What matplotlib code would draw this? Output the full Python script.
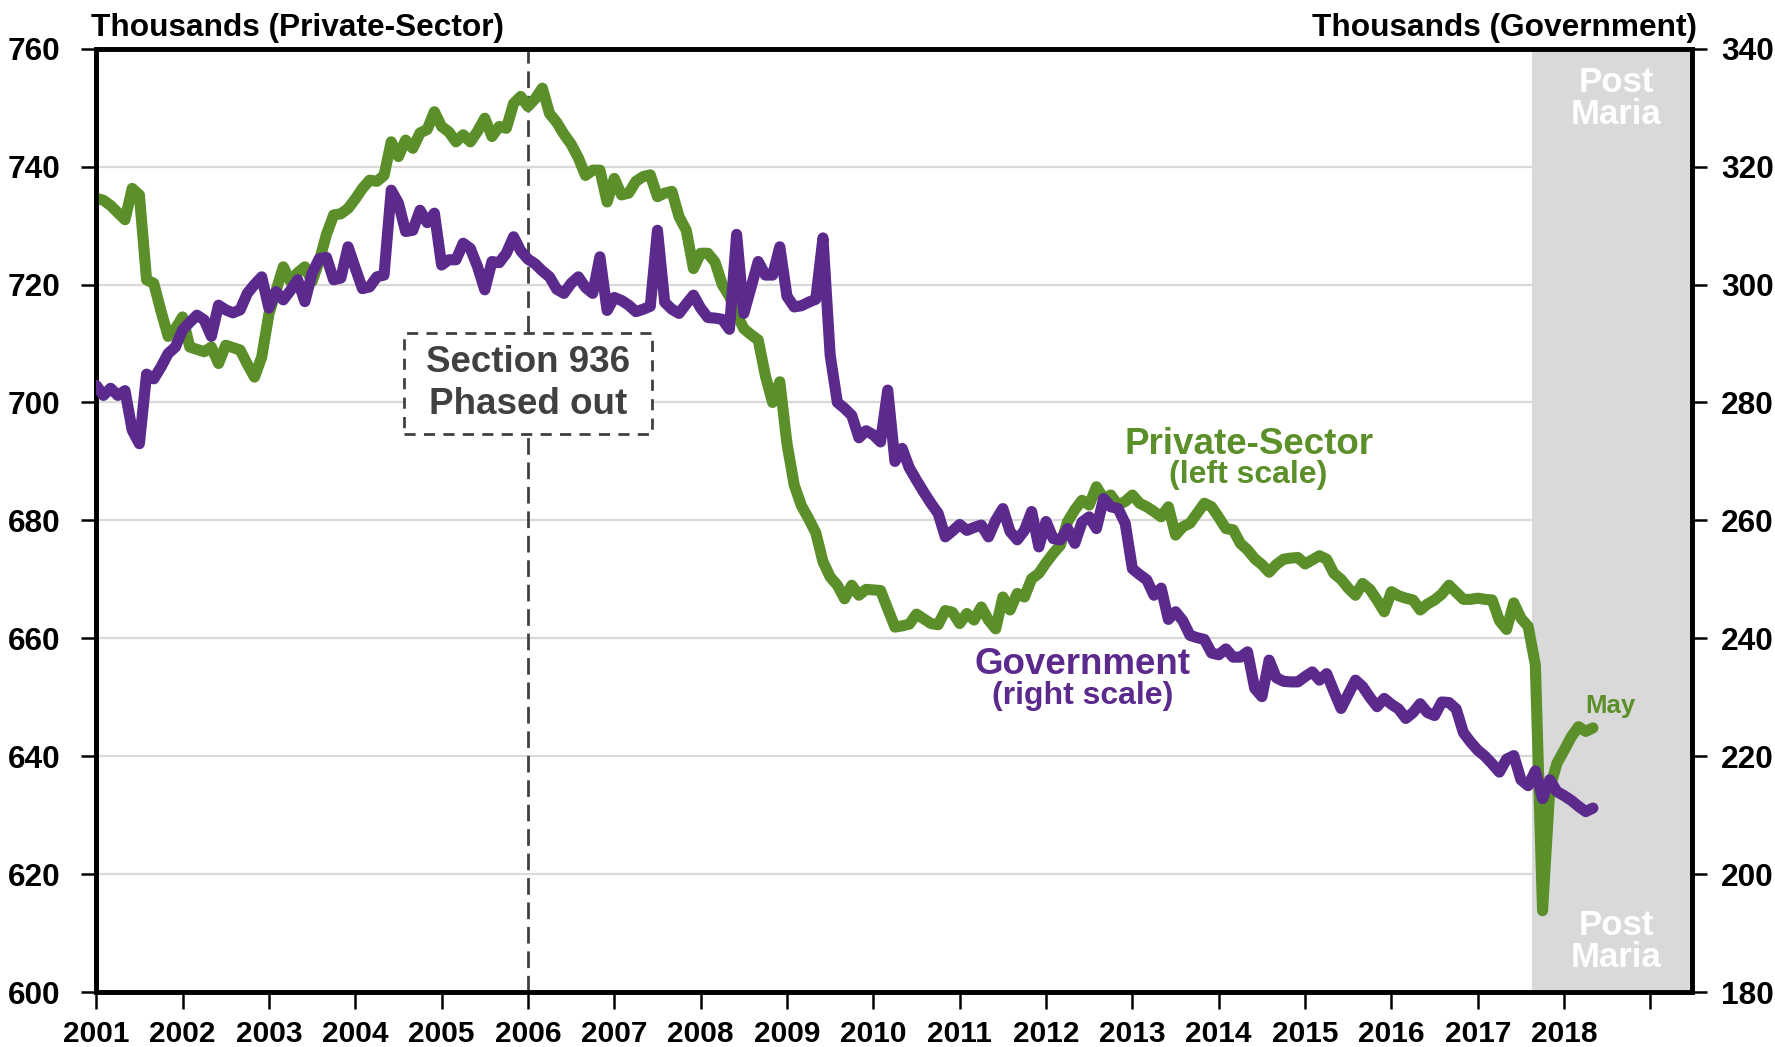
import numpy as np
import matplotlib.pyplot as plt
from matplotlib import font_manager
from matplotlib.patches import Rectangle

plt.rcParams['font.family'] = ['Liberation Sans', 'DejaVu Sans']
plt.rcParams['font.weight'] = 'bold'

# monthly, Jan 2001 .. May 2018 (thousands)
private = [
    734.6, 734.3, 733.4, 732.2, 731.0, 736.3, 735.2, 720.8, 720.2, 715.5, 711.2, 712.5,  # 2001
    714.5, 709.4, 709.0, 708.6, 709.4, 706.6, 709.7, 709.3, 708.9, 706.5, 704.3, 707.7,  # 2002
    715.0, 719.0, 723.0, 720.5, 722.0, 723.0, 720.5, 724.0, 728.5, 731.8, 732.0, 732.9,  # 2003
    734.5, 736.3, 737.7, 737.5, 738.5, 744.2, 741.7, 744.5, 743.1, 745.7, 746.3, 749.3,  # 2004
    746.8, 745.9, 744.2, 745.4, 744.2, 746.0, 748.2, 745.1, 746.8, 746.5, 750.7, 751.9,  # 2005
    750.2, 751.5, 753.3, 749.0, 747.5, 745.5, 743.8, 741.5, 738.5, 739.4, 739.4, 734.0,  # 2006
    738.0, 735.2, 735.5, 737.5, 738.3, 738.6, 734.9, 735.5, 735.8, 731.5, 729.2, 722.7,  # 2007
    725.3, 725.3, 723.8, 720.0, 718.0, 715.0, 712.5, 711.5, 710.6, 704.5, 700.0, 703.5,  # 2008
    693.0, 686.0, 682.5, 680.3, 677.9, 673.0, 670.4, 669.0, 666.7, 669.0, 667.3, 668.3,  # 2009
    668.2, 668.1, 665.0, 661.9, 662.1, 662.4, 664.1, 663.3, 662.5, 662.3, 664.7, 664.4,  # 2010
    662.5, 664.2, 663.1, 665.3, 663.1, 661.6, 667.0, 664.8, 667.6, 667.0, 670.1, 671.0,  # 2011
    672.8, 674.4, 675.8, 679.8, 681.8, 683.4, 682.6, 685.7, 683.7, 684.3, 682.6, 683.2,  # 2012
    684.3, 682.9, 682.3, 681.5, 680.6, 682.3, 677.5, 678.9, 679.5, 681.2, 682.9, 682.3,  # 2013
    680.5, 678.6, 678.4, 676.1, 675.0, 673.5, 672.5, 671.2, 672.5, 673.4, 673.6, 673.7,  # 2014
    672.6, 673.3, 674.0, 673.4, 671.0, 670.0, 668.5, 667.3, 669.3, 668.3, 666.5, 664.5,  # 2015
    667.9, 667.2, 666.8, 666.5, 664.8, 665.8, 666.5, 667.5, 669.0, 667.8, 666.6, 666.6,  # 2016
    666.8, 666.6, 666.5, 663.0, 661.5, 666.0, 663.4, 662.0, 655.5, 613.8, 634.5, 638.8,  # 2017
    641.0, 643.3, 645.0, 644.2, 644.8,                                                   # 2018
]

government = [
    282.9, 281.2, 282.4, 281.2, 282.0, 275.3, 273.0, 284.8, 284.0, 286.0, 288.3, 289.4,  # 2001
    292.3, 293.6, 294.8, 294.0, 291.2, 296.5, 295.7, 295.2, 295.7, 298.5, 300.0, 301.3,  # 2002
    296.0, 298.8, 297.4, 299.0, 300.8, 297.1, 301.9, 304.4, 304.6, 300.8, 301.1, 306.4,  # 2003
    302.8, 299.3, 299.6, 301.3, 301.6, 316.0, 313.8, 309.0, 309.2, 312.6, 310.5, 312.1,  # 2004
    303.3, 304.2, 304.2, 307.0, 306.1, 303.0, 299.1, 303.9, 303.7, 305.3, 308.1, 305.7,  # 2005
    304.3, 303.5, 302.3, 301.3, 299.2, 298.5, 300.2, 301.3, 299.5, 298.5, 304.7, 295.6,  # 2006
    297.8, 297.3, 296.5, 295.4, 295.8, 296.3, 309.2, 297.0, 295.8, 295.1, 296.7, 298.2,  # 2007
    296.0, 294.4, 294.3, 294.1, 292.4, 308.5, 295.1, 299.5, 303.9, 301.6, 301.6, 306.4,  # 2008
    298.0, 296.2, 296.4, 297.0, 297.5, 307.9, 288.0, 280.0, 279.0, 277.8, 274.0, 275.2,  # 2009
    274.5, 273.3, 282.1, 270.0, 272.2, 268.9, 266.8, 264.8, 262.9, 261.2, 257.2, 258.2,  # 2010
    259.3, 258.3, 258.8, 259.2, 257.2, 260.0, 262.0, 258.1, 256.7, 258.3, 261.5, 255.5,  # 2011
    259.8, 256.9, 256.7, 258.6, 256.1, 259.7, 260.6, 258.6, 263.7, 262.3, 262.0, 259.5,  # 2012
    251.8, 250.8, 249.9, 247.3, 248.5, 243.2, 244.5, 243.0, 240.5, 240.1, 239.8, 237.5,  # 2013
    237.2, 238.2, 236.8, 236.8, 237.7, 231.5, 230.1, 236.3, 233.3, 232.7, 232.6, 232.6,  # 2014
    233.5, 234.3, 232.9, 234.0, 231.0, 228.1, 230.5, 232.9, 231.8, 230.0, 228.4, 229.8,  # 2015
    228.8, 228.0, 226.4, 227.4, 228.9, 227.4, 226.9, 229.2, 229.1, 228.0, 224.0, 222.4,  # 2016
    221.0, 220.0, 218.7, 217.3, 219.5, 220.1, 216.0, 215.0, 217.5, 212.8, 216.0, 214.0,  # 2017
    213.3, 212.5, 211.5, 210.6, 211.2,                                                   # 2018
]

start_year = 2001
year_ticks = list(range(2001, 2020))
year_labels = [str(y) for y in range(2001, 2019)] + ['']
left_ticks = list(range(600, 761, 20))
right_ticks = list(range(180, 341, 20))
maria_start = 2017.625   # shading from Sept 2017

GREEN = '#5b8f29'
PURPLE = '#5b2a8c'
SHADE = '#d9d9d9'
DARK = '#404040'

narrow_ok = any(f.name == 'Liberation Sans Narrow' for f in font_manager.fontManager.ttflist)
xfont = ['Liberation Sans Narrow', 'DejaVu Sans'] if narrow_ok else ['Liberation Sans', 'DejaVu Sans']
xsize = 23 if narrow_ok else 21.5


def main():
    t = start_year + np.arange(len(private)) / 12

    fig = plt.figure(figsize=(17.75, 10.47), dpi=100)
    ax = fig.add_axes([0.0542, 0.0525, 0.899, 0.901])
    ax2 = ax.twinx()

    ax.set_xlim(2001, 2019.48)
    ax.set_ylim(600, 760)
    ax2.set_ylim(180, 340)

    ax.set_axisbelow(True)
    ax.grid(axis='y', color=SHADE, lw=1.6)
    ax.axvspan(maria_start, 2019.48, color=SHADE, lw=0, zorder=1)
    ax.axvline(2006, color=DARK, lw=2.0, ls=(0, (6, 2.8)), zorder=2)

    ax.plot(t, private, color=GREEN, lw=8, solid_joinstyle='round',
            solid_capstyle='round', zorder=3)
    ax2.plot(t, government, color=PURPLE, lw=8, solid_joinstyle='round',
             solid_capstyle='round', zorder=3)

    # Section 936 box
    ax.add_patch(Rectangle((2004.565, 694.68), 2.87, 17.1, fc='white', ec=DARK,
                           lw=2.0, ls=(0, (4, 3)), zorder=4))
    ax.text(2006, 703.2, 'Section 936\nPhased out', ha='center', va='center',
            fontsize=26.5, color=DARK, linespacing=1.28, zorder=5)

    # series labels
    ax.text(2014.35, 691.3, 'Private-Sector', ha='center', va='baseline',
            fontsize=26.5, color=GREEN, zorder=5)
    ax.text(2014.34, 686.3, '(left scale)', ha='center', va='baseline',
            fontsize=23, color=GREEN, zorder=5)
    ax.text(2012.42, 654.0, 'Government', ha='center', va='baseline',
            fontsize=26.5, color=PURPLE, zorder=5)
    ax.text(2012.43, 648.8, '(right scale)', ha='center', va='baseline',
            fontsize=23, color=PURPLE, zorder=5)
    ax.text(2018.54, 647.3, 'May', ha='center', va='baseline',
            fontsize=18.5, color=GREEN, zorder=5)

    # Post Maria, top and bottom
    for yb, word in [(752.7, 'Post'), (747.3, 'Maria'), (609.6, 'Post'), (604.3, 'Maria')]:
        ax.text(2018.6, yb, word, ha='center', va='baseline', fontsize=25,
                color='white', zorder=2)

    # axes styling
    for a in (ax, ax2):
        for s in a.spines.values():
            s.set_linewidth(3.3)
            s.set_color('black')

    ax.set_xticks(year_ticks)
    ax.set_xticklabels(year_labels, family=xfont, fontsize=xsize, fontweight='bold')
    ax.tick_params(axis='x', length=12, width=1.8, pad=8)

    ax.set_yticks(left_ticks)
    ax.set_yticklabels([str(v) for v in left_ticks], fontsize=22.8, fontweight='bold')
    ax.tick_params(axis='y', length=11, width=1.8, pad=15)

    ax2.set_yticks(right_ticks)
    ax2.set_yticklabels([str(v) for v in right_ticks], fontsize=22.8, fontweight='bold')
    ax2.tick_params(axis='y', length=11, width=1.8, pad=10)

    fig.text(0.051, 0.9656, 'Thousands (Private-Sector)', ha='left', va='baseline',
             fontsize=22.8, fontweight='bold')
    fig.text(0.956, 0.9656, 'Thousands (Government)', ha='right', va='baseline',
             fontsize=22.8, fontweight='bold')

    fig.savefig('out.png', dpi=100)


if __name__ == "__main__":
    main()
